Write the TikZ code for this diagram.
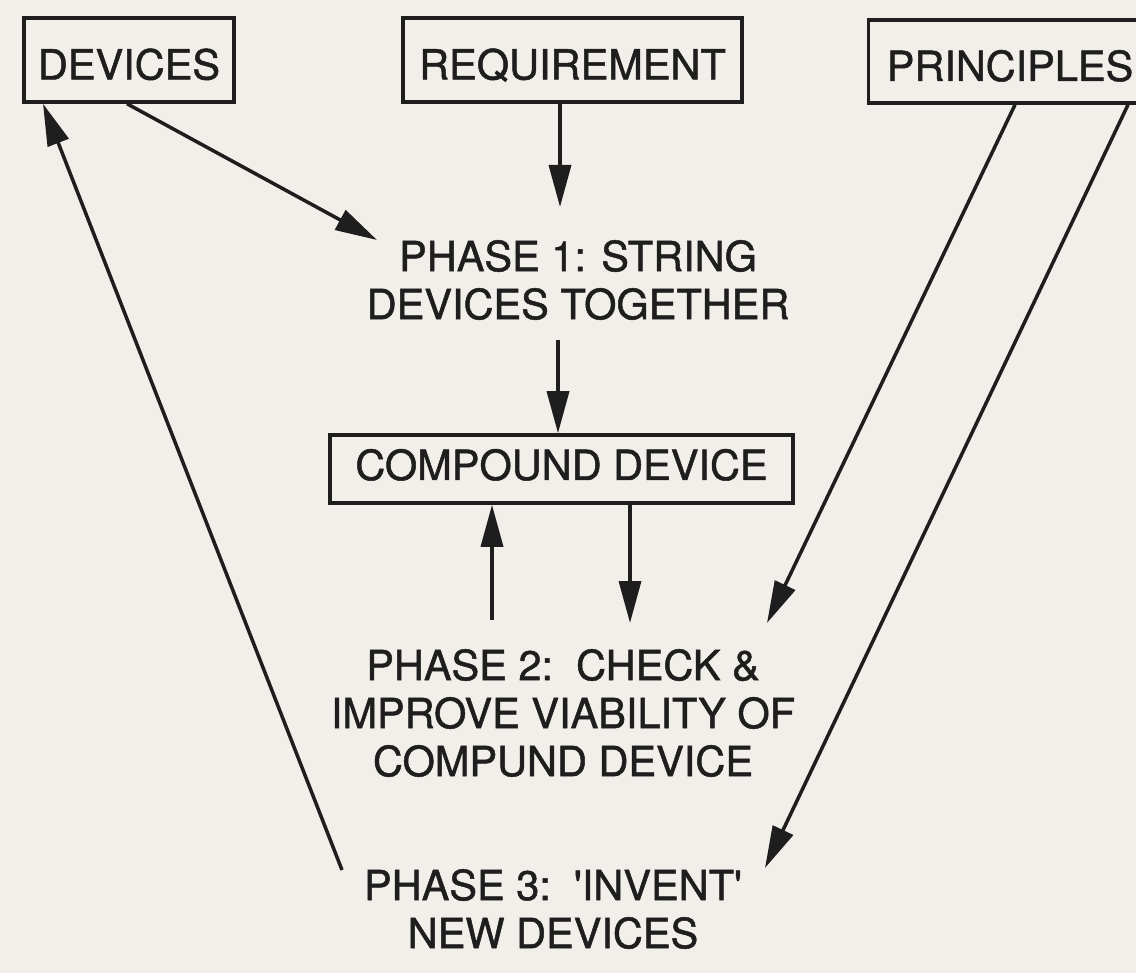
\documentclass[tikz,border=0pt]{standalone}
\usepackage{fontspec}
\setmainfont{TeX Gyre Heros}[FakeBold=1.2]
\usetikzlibrary{arrows.meta}
\definecolor{paper}{HTML}{F2EFEA}
\definecolor{ink}{HTML}{1E1E1E}
\begin{document}
\begin{tikzpicture}[x=1pt,y=-1pt,
  every node/.style={font=\fontsize{41.5}{48}\selectfont, text=ink, inner sep=0pt},
  box/.style={draw=ink, line width=3.5pt, minimum height=84pt, text height=39pt, text depth=0pt},
  phase/.style={align=center},
  arr/.style={draw=ink, line width=3.5pt, -{Triangle[length=42pt,width=22pt]}}
  ]
% paper and page size
\fill[paper] (0,0) rectangle (1136,973);
\useasboundingbox (0,0) rectangle (1136,973);

% boxed items
\node[box, minimum width=210pt] (devices) at (129,60) {DEVICES};
\node[box, minimum width=339pt] (req) at (572.5,60) {REQUIREMENT};
\node[box, minimum width=283pt, minimum height=83pt] (princ) at (1010,61.5) {PRINCIPLES};
\node[box, minimum width=463pt, minimum height=68pt, text height=22pt] (comp) at (561.5,469) {COMPOUND DEVICE};

% phase labels
\node[phase] (ph1) at (578,280) {PHASE 1: STRING\\DEVICES TOGETHER};
\node[phase] (ph2) at (563,713) {PHASE 2:\ \ CHECK \&\\IMPROVE VIABILITY OF\\COMPUND DEVICE};
\node[phase] (ph3) at (553,909) {PHASE 3:\ \ \textquotesingle INVENT\textquotesingle\\NEW DEVICES};

% free ends of the connectors
\coordinate (ph1in)  at (560,207);
\coordinate (ph1inL) at (377,240);
\coordinate (ph1out) at (558,340);
\coordinate (ph2in)  at (630,623);
\coordinate (ph2out) at (492,620);
\coordinate (ph2inR) at (767,623);
\coordinate (ph3in)  at (765,868);
\coordinate (ph3out) at (342,870);

% connectors
\draw[arr] (req.south -| ph1in) -- (ph1in);
\draw[arr] ([xshift=-2pt]devices.south) -- (ph1inL);
\draw[arr] (ph1out) -- (comp.north -| ph1out);
\draw[arr] (comp.south -| ph2in) -- (ph2in);
\draw[arr] (ph2out) -- (comp.south -| ph2out);
\draw[arr] ([xshift=5pt]princ.south) -- (ph2inR);
\draw[arr] ([xshift=118pt]princ.south) -- (ph3in);
\draw[arr] (ph3out) -- ([xshift=-86pt]devices.south);
\end{tikzpicture}
\end{document}
